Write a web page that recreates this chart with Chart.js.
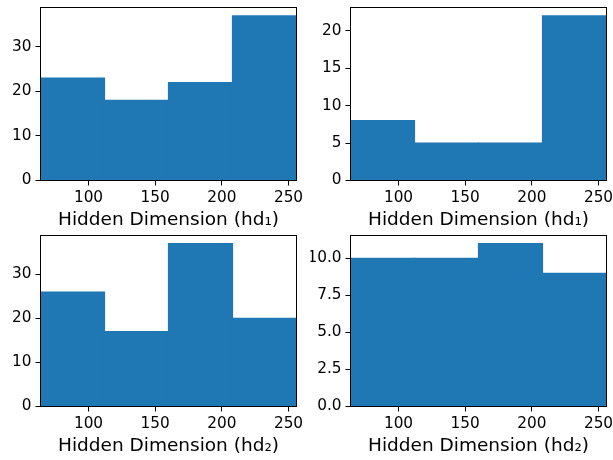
<!DOCTYPE html>
<html>
<head>
<meta charset="utf-8">
<script src="https://cdn.jsdelivr.net/npm/chart.js@4/dist/chart.umd.min.js"></script>
<style>
  html, body { margin: 0; padding: 0; width: 613px; height: 460px; overflow: hidden; background: #fff; }
  canvas { position: absolute; left: -40px; top: -40px; }
</style>
</head>
<body>
<canvas id="c1" width="720" height="560"></canvas>
<canvas id="c2" width="720" height="560"></canvas>
<canvas id="c3" width="720" height="560"></canvas>
<canvas id="c4" width="720" height="560"></canvas>
<script>
// ---- data ----
const binEdges = [64, 112, 160, 208, 256];
const xTicks = [100, 150, 200, 250];
const countsTopLeft = [23, 18, 22, 37];
const countsTopRight = [8, 5, 5, 22];
const countsBottomLeft = [26, 17, 37, 20];
const countsBottomRight = [10, 10, 11, 9];
const yTicksTopLeft = [0, 10, 20, 30];
const yTicksTopRight = [0, 5, 10, 15, 20];
const yTicksBottomLeft = [0, 10, 20, 30];
const yTicksBottomRight = [0, 2.5, 5, 7.5, 10];
const labelTop = 'Hidden Dimension (hd\u2081)';
const labelBottom = 'Hidden Dimension (hd\u2082)';

// ---- layout ----
const OFF = 40, W = 720, H = 560, YW = 40, XH = 51;
const FONT = 'DejaVu Sans';
const BLUE = '#1f77b4';

const frame = {
  id: 'frame',
  afterDatasetsDraw(chart) {
    const a = chart.chartArea, ctx = chart.ctx;
    ctx.save();
    ctx.strokeStyle = '#000';
    ctx.lineWidth = 1;
    ctx.strokeRect(a.left, a.top, a.right - a.left, a.bottom - a.top);
    ctx.restore();
  }
};

function makeChart(id, counts, yTicks, yMax, decimals, title, area) {
  const centers = counts.map((_, i) => (binEdges[i] + binEdges[i + 1]) / 2);
  new Chart(document.getElementById(id), {
    type: 'bar',
    data: {
      datasets: [{
        data: counts.map((v, i) => ({ x: centers[i], y: v })),
        backgroundColor: BLUE,
        borderWidth: 0,
        inflateAmount: 0.6,
        barPercentage: 1,
        categoryPercentage: 1
      }]
    },
    options: {
      responsive: false,
      animation: false,
      devicePixelRatio: 1,
      layout: {
        padding: {
          left: area.l + OFF - YW,
          top: area.t + OFF,
          right: W - (area.r + OFF),
          bottom: H - (area.b + OFF) - XH
        }
      },
      plugins: { legend: { display: false }, tooltip: { enabled: false } },
      scales: {
        x: {
          type: 'linear',
          min: binEdges[0],
          max: binEdges[binEdges.length - 1],
          offset: false,
          afterBuildTicks: s => { s.ticks = xTicks.map(v => ({ value: v })); },
          afterFit: s => { s.height = XH; },
          grid: { display: true, offset: false, drawOnChartArea: false, drawTicks: true, tickLength: 5, tickColor: '#000', tickWidth: 1 },
          border: { display: false },
          ticks: { autoSkip: false, maxRotation: 0, minRotation: 0, padding: 3, color: '#000',
                   font: { family: FONT, size: 15.3 }, callback: v => String(v) },
          title: { display: true, text: title, color: '#000', padding: 0,
                   font: { family: FONT, size: 18.5 } }
        },
        y: {
          type: 'linear',
          min: 0,
          max: yMax,
          afterBuildTicks: s => { s.ticks = yTicks.map(v => ({ value: v })); },
          afterFit: s => { s.width = YW; },
          grid: { display: true, offset: false, drawOnChartArea: false, drawTicks: true, tickLength: 5, tickColor: '#000', tickWidth: 1 },
          border: { display: false },
          ticks: { padding: 4, color: '#000', font: { family: FONT, size: 15.3 },
                   callback: v => Number(v).toFixed(decimals) }
        }
      }
    },
    plugins: [frame]
  });
}

makeChart('c1', countsTopLeft, yTicksTopLeft, 38.85, 0, labelTop, { l: 40.5, t: 7.5, r: 296.5, b: 180.5 });
makeChart('c2', countsTopRight, yTicksTopRight, 23.1, 0, labelTop, { l: 350.5, t: 7.5, r: 606.5, b: 180.5 });
makeChart('c3', countsBottomLeft, yTicksBottomLeft, 38.85, 0, labelBottom, { l: 40.5, t: 235.5, r: 296.5, b: 406.5 });
makeChart('c4', countsBottomRight, yTicksBottomRight, 11.55, 1, labelBottom, { l: 350.5, t: 235.5, r: 606.5, b: 406.5 });
</script>
</body>
</html>
